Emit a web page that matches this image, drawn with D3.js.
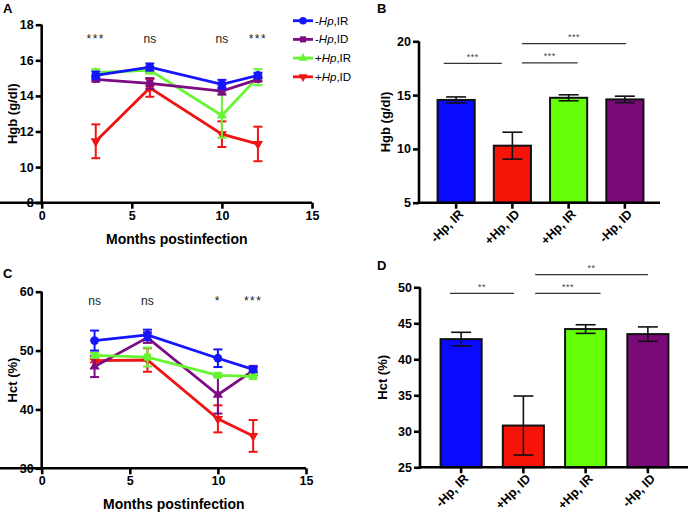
<!DOCTYPE html>
<html><head><meta charset="utf-8">
<script src="https://cdn.jsdelivr.net/npm/d3@7"></script>
<style>
body{margin:0;background:#fff;}
svg{display:block;font-family:"Liberation Sans",Arial,sans-serif;}
</style></head>
<body><svg id="chart" width="691" height="516"></svg>
<script>
// ---------- DATA ----------
const months = [3, 6, 10, 12];
const seriesKeys = ["negIR", "negID", "posIR", "posID"];
const legendSign = ["-", "-", "+", "+"];
const legendSuffix = [",IR", ",ID", ",IR", ",ID"];
const seriesColors = ["#1414ff", "#7d0b83", "#66f531", "#f01414"];

// Panel A: Hgb (g/dl) over time
const hgbNegIR = [15.15, 15.62, 14.65, 15.15];
const hgbNegIRErr = [0.22, 0.2, 0.25, 0.15];
const hgbNegID = [14.93, 14.7, 14.27, 14.93];
const hgbNegIDErr = [0.12, 0.3, 0.2, 0.1];
const hgbPosIR = [15.3, 15.45, 12.9, 15.05];
const hgbPosIRErr = [0.2, 0.2, 1.25, 0.45];
const hgbPosID = [11.45, 14.45, 11.85, 11.3];
const hgbPosIDErr = [0.95, 0.5, 0.72, 0.97];
const hgbSig = ["***", "ns", "ns", "***"];

// Panel C: Hct (%) over time
const hctNegIR = [51.7, 52.65, 48.7, 46.8];
const hctNegIRErr = [1.7, 0.9, 1.5, 0.4];
const hctNegID = [47.3, 52.2, 42.5, 46.6];
const hctNegIDErr = [1.8, 0.9, 3.2, 0.8];
const hctPosIR = [49.2, 48.9, 45.8, 45.6];
const hctPosIRErr = [0.4, 1.6, 0.3, 0.3];
const hctPosID = [48.3, 48.4, 38.4, 35.5];
const hctPosIDErr = [0.3, 2.0, 2.3, 2.7];
const hctSig = ["ns", "ns", "*", "***"];

// Panels B and D: bars
const barCats = ["-Hp, IR", "+Hp, ID", "+Hp, IR", "-Hp, ID"];
const barColors = ["#0a0aff", "#f51508", "#66ff0a", "#7a0a78"];
const hgbBar = [14.55, 10.3, 14.75, 14.6];
const hgbBarErr = [0.28, 1.25, 0.28, 0.3];
const hctBar = [42.8, 30.8, 44.2, 43.5];
const hctBarErr = [0.95, 4.1, 0.6, 1.0];

const hgbBrackets = [
  {a: -0.22, b: 0.81, y: 17.95, label: "***"},
  {a: 1.17, b: 2.16, y: 18.0, label: "***"},
  {a: 1.17, b: 3.02, y: 19.78, label: "***"}
];
const hctBrackets = [
  {a: -0.18, b: 0.85, y: 49.17, label: "**"},
  {a: 1.19, b: 2.24, y: 49.17, label: "***"},
  {a: 1.19, b: 3.0, y: 51.75, label: "**"}
];

// ---------- DRAW ----------
const svg = d3.select("#chart");
const AX = 2.6;
const FONT = "'Liberation Sans', Arial, sans-serif";

function panelLetter(t, x, y) {
  svg.append("text").attr("x", x).attr("y", y).text(t)
    .style("font-size", "13px").style("font-weight", "bold");
}

function styleAxis(g) {
  g.attr("font-family", null).attr("font-size", null);
  g.selectAll(".domain").attr("stroke", "#000").attr("stroke-width", AX);
  g.selectAll(".tick line").attr("stroke", "#000").attr("stroke-width", AX);
  g.selectAll(".tick text").style("font-size", "12.5px").style("font-weight", "bold")
    .style("fill", "#000").style("font-family", FONT);
}

function shape(sym, size) { return d3.symbol().type(sym).size(size)(); }

function linePanel(cfg) {
  const x = d3.scaleLinear().domain([0, 15]).range(cfg.xr);
  const y = d3.scaleLinear().domain(cfg.yd).range(cfg.yr);
  const gx = svg.append("g").attr("transform", `translate(0,${cfg.yr[0]})`)
    .call(d3.axisBottom(x).tickValues([0, 5, 10, 15]).tickSize(6).tickPadding(2).tickSizeOuter(0));
  styleAxis(gx);
  const gy = svg.append("g").attr("transform", `translate(${cfg.xr[0]},0)`)
    .call(d3.axisLeft(y).tickValues(cfg.yticks).tickSize(6).tickPadding(2).tickSizeOuter(0));
  styleAxis(gy);
  gy.select(".domain").attr("d", `M0,${cfg.yr[0] + 1.3}V${cfg.yr[1]}`);
  gx.select(".domain").attr("d", `M0,0H${cfg.xr[1]}`);

  svg.append("text").attr("x", (cfg.xr[0] + cfg.xr[1]) / 2).attr("y", cfg.xtitleY)
    .attr("text-anchor", "middle").style("font-size", "14px").style("font-weight", "bold")
    .text("Months postinfection");
  svg.append("text")
    .attr("transform", `translate(${cfg.ytitleX},${(cfg.yr[0] + cfg.yr[1]) / 2}) rotate(-90)`)
    .attr("text-anchor", "middle").style("font-size", "13px").style("font-weight", "bold")
    .text(cfg.ytitle);

  // significance labels
  svg.append("g").selectAll("text").data(cfg.sig).join("text")
    .attr("x", (d, i) => x(months[i])).attr("y", cfg.sigY)
    .attr("text-anchor", "middle").style("font-size", "12px").attr("fill", "#222")
    .attr("letter-spacing", d => d.startsWith("*") ? 1.5 : 0)
    .text(d => d);

  cfg.order.forEach(si => {
    const s = cfg.series[si];
    const color = seriesColors[si];
    const pts = months.map((m, i) => ({m, v: s.v[i], e: s.e[i]}));
    const g = svg.append("g");
    const eb = g.selectAll("g.eb").data(pts).join("g");
    eb.append("line").attr("x1", d => x(d.m)).attr("x2", d => x(d.m))
      .attr("y1", d => y(d.v - d.e)).attr("y2", d => y(d.v + d.e))
      .attr("stroke", color).attr("stroke-width", 2);
    [-1, 1].forEach(sg => {
      eb.append("line").attr("x1", d => x(d.m) - 4.5).attr("x2", d => x(d.m) + 4.5)
        .attr("y1", d => y(d.v + sg * d.e)).attr("y2", d => y(d.v + sg * d.e))
        .attr("stroke", color).attr("stroke-width", 2);
    });
    g.append("path").datum(pts)
      .attr("d", d3.line().x(d => x(d.m)).y(d => y(d.v)))
      .attr("fill", "none").attr("stroke", color).attr("stroke-width", 2.8);
    g.selectAll("path.mk").data(pts).join("path").attr("class", "mk")
      .attr("transform", d => `translate(${x(d.m)},${y(d.v)})${s.rot ? " rotate(180)" : ""}`)
      .attr("d", shape(s.sym, s.size)).attr("fill", color);
  });
  return {x, y};
}

// ---------- Panel A ----------
panelLetter("A", 3, 13);
const symA = [
  {sym: d3.symbolCircle, size: 60},
  {sym: d3.symbolSquare, size: 50},
  {sym: d3.symbolTriangle, size: 45},
  {sym: d3.symbolTriangle, size: 45, rot: true}
];
linePanel({
  xr: [41.7, 312], yd: [8, 18], yr: [202.7, 24.7], yticks: [8, 10, 12, 14, 16, 18],
  xtitleY: 244, ytitle: "Hgb (g/dl)", ytitleX: 17, sigY: 43,
  sig: hgbSig, order: [3, 2, 1, 0],
  series: [
    Object.assign({v: hgbNegIR, e: hgbNegIRErr}, symA[0]),
    Object.assign({v: hgbNegID, e: hgbNegIDErr}, symA[1]),
    Object.assign({v: hgbPosIR, e: hgbPosIRErr}, symA[2]),
    Object.assign({v: hgbPosID, e: hgbPosIDErr}, symA[3])
  ]
});

// Legend (panel A)
const lg = svg.append("g");
seriesKeys.forEach((k, i) => {
  const yy = 20.7 + i * 18.7;
  lg.append("line").attr("x1", 293).attr("x2", 313).attr("y1", yy).attr("y2", yy)
    .attr("stroke", seriesColors[i]).attr("stroke-width", 2.8);
  lg.append("path").attr("transform", `translate(303,${yy})${symA[i].rot ? " rotate(180)" : ""}`)
    .attr("d", shape(symA[i].sym, symA[i].size * 0.75)).attr("fill", seriesColors[i]);
  const t = lg.append("text").attr("x", 315).attr("y", yy + 4).style("font-size", "11.5px");
  t.append("tspan").text(legendSign[i]);
  t.append("tspan").style("font-style", "italic").text("Hp");
  t.append("tspan").text(legendSuffix[i]);
});

// ---------- Panel C ----------
panelLetter("C", 3, 278);
const symC = [
  {sym: d3.symbolCircle, size: 60},
  {sym: d3.symbolTriangle, size: 45},
  {sym: d3.symbolSquare, size: 50},
  {sym: d3.symbolTriangle, size: 45, rot: true}
];
linePanel({
  xr: [41.7, 306], yd: [30, 60], yr: [468.3, 291.7], yticks: [30, 40, 50, 60],
  xtitleY: 509, ytitle: "Hct (%)", ytitleX: 17, sigY: 305,
  sig: hctSig, order: [3, 1, 2, 0],
  series: [
    Object.assign({v: hctNegIR, e: hctNegIRErr}, symC[0]),
    Object.assign({v: hctNegID, e: hctNegIDErr}, symC[1]),
    Object.assign({v: hctPosIR, e: hctPosIRErr}, symC[2]),
    Object.assign({v: hctPosID, e: hctPosIDErr}, symC[3])
  ]
});

// ---------- Bar panels ----------
function barPanel(cfg) {
  const x = d3.scaleBand().domain(barCats).range(cfg.br).paddingInner(0.34).paddingOuter(0.17);
  const idx = d3.scaleLinear().domain([0, 3])
    .range([x(barCats[0]) + x.bandwidth() / 2, x(barCats[3]) + x.bandwidth() / 2]);
  const y = d3.scaleLinear().domain(cfg.yd).range(cfg.yr);

  const data = barCats.map((c, i) => ({c, v: cfg.vals[i], e: cfg.errs[i], col: barColors[i]}));
  svg.append("g").selectAll("rect").data(data).join("rect")
    .attr("x", d => x(d.c)).attr("width", x.bandwidth())
    .attr("y", d => y(d.v)).attr("height", d => y(cfg.yd[0]) - y(d.v))
    .attr("fill", d => d.col).attr("stroke", "#111").attr("stroke-width", 2);

  const eg = svg.append("g").selectAll("g").data(data).join("g");
  eg.append("line").attr("x1", d => x(d.c) + x.bandwidth() / 2).attr("x2", d => x(d.c) + x.bandwidth() / 2)
    .attr("y1", d => y(d.v - d.e)).attr("y2", d => y(d.v + d.e)).attr("stroke", "#111").attr("stroke-width", 1.6);
  [-1, 1].forEach(sg => {
    eg.append("line").attr("x1", d => x(d.c) + x.bandwidth() / 2 - 10).attr("x2", d => x(d.c) + x.bandwidth() / 2 + 10)
      .attr("y1", d => y(d.v + sg * d.e)).attr("y2", d => y(d.v + sg * d.e))
      .attr("stroke", "#111").attr("stroke-width", 1.6);
  });

  const gx = svg.append("g").attr("transform", `translate(0,${cfg.yr[0]})`)
    .call(d3.axisBottom(x).tickSize(6).tickSizeOuter(0));
  styleAxis(gx);
  gx.select(".domain").attr("d", `M${cfg.axr[0]},0H${cfg.axr[1]}`);
  gx.selectAll(".tick text").attr("text-anchor", "end")
    .attr("transform", "translate(5,9) rotate(-45)").attr("dy", "0.35em").attr("y", 0).attr("x", 0);

  const gy = svg.append("g").attr("transform", `translate(${cfg.axr[0]},0)`)
    .call(d3.axisLeft(y).tickValues(cfg.yticks).tickSize(6).tickPadding(2).tickSizeOuter(0));
  styleAxis(gy);
  gy.select(".domain").attr("d", `M0,${cfg.yr[0] + 1.3}V${cfg.yr[1]}`);

  svg.append("text")
    .attr("transform", `translate(${cfg.ytitleX},${(cfg.yr[0] + cfg.yr[1]) / 2}) rotate(-90)`)
    .attr("text-anchor", "middle").style("font-size", "13px").style("font-weight", "bold")
    .text(cfg.ytitle);

  const bg = svg.append("g").selectAll("g").data(cfg.brackets).join("g");
  bg.append("line").attr("x1", d => idx(d.a)).attr("x2", d => idx(d.b))
    .attr("y1", d => y(d.y)).attr("y2", d => y(d.y)).attr("stroke", "#333").attr("stroke-width", 1.3);
  bg.append("text").attr("x", d => (idx(d.a) + idx(d.b)) / 2).attr("y", d => y(d.y) - 3.5)
    .attr("text-anchor", "middle").style("font-size", "9px").attr("fill", "#444").attr("letter-spacing", 0.5)
    .text(d => d.label);
}

panelLetter("B", 377, 13);
barPanel({
  br: [428, 653], axr: [419, 660], yd: [5, 20], yr: [202.7, 41.3], yticks: [5, 10, 15, 20],
  vals: hgbBar, errs: hgbBarErr, ytitle: "Hgb (g/dl)", ytitleX: 390, brackets: hgbBrackets
});

panelLetter("D", 377, 270);
barPanel({
  br: [430, 679], axr: [420, 688], yd: [25, 50], yr: [467.3, 287.3], yticks: [25, 30, 35, 40, 45, 50],
  vals: hctBar, errs: hctBarErr, ytitle: "Hct (%)", ytitleX: 387, brackets: hctBrackets
});
</script></body></html>
